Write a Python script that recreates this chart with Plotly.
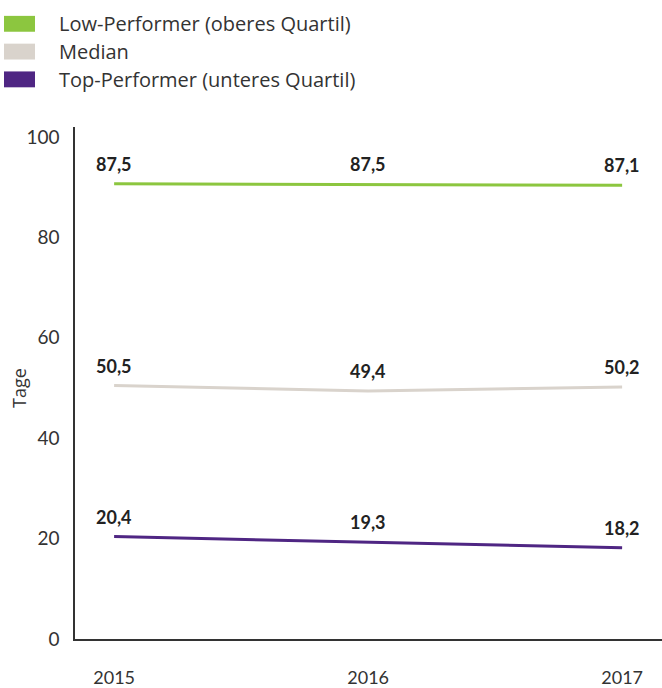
import plotly.graph_objects as go

years = [2015, 2016, 2017]
series_names = ["Low-Performer (oberes Quartil)", "Median", "Top-Performer (unteres Quartil)"]
series_colors = ["#8cc63f", "#d9d3cc", "#4f2683"]
# line positions as drawn in the picture
low_values = [90.7, 90.6, 90.4]
median_values = [50.5, 49.4, 50.2]
top_values = [20.4, 19.3, 18.2]
# printed value labels
low_labels = ["87,5", "87,5", "87,1"]
median_labels = ["50,5", "49,4", "50,2"]
top_labels = ["20,4", "19,3", "18,2"]
y_ticks = [0, 20, 40, 60, 80, 100]

W, H = 662, 688
ML, MR, MT, MB = 75, 0, 127, 45
pw, ph = W - ML - MR, H - MT - MB

def px_x(p):
    return (p - ML) / pw

def px_y(p):
    return (H - MB - p) / ph

fig = go.Figure()
all_vals = [low_values, median_values, top_values]
all_labels = [low_labels, median_labels, top_labels]
for name, col, vals, labs in zip(series_names, series_colors, all_vals, all_labels):
    fig.add_trace(go.Scatter(x=years, y=vals, mode="lines", name=name,
                             line=dict(color=col, width=3), showlegend=False,
                             hoverinfo="skip"))
    for xv, yv, t in zip(years, vals, labs):
        fig.add_annotation(x=xv, y=yv, text=t, showarrow=False, yshift=20,
                           font=dict(family="Lato", size=18, color="#222222", weight=700),
                           xanchor="center", yanchor="middle")

# legend drawn manually (rectangle swatches)
leg_rows = [23, 51, 79]
for name, col, ry in zip(series_names, series_colors, leg_rows):
    fig.add_shape(type="rect", xref="paper", yref="paper",
                  x0=px_x(4), x1=px_x(35), y0=px_y(ry - 8), y1=px_y(ry + 8),
                  fillcolor=col, line=dict(width=0), layer="above")
    fig.add_annotation(xref="paper", yref="paper", x=px_x(57), y=px_y(ry),
                       text=name, showarrow=False, xanchor="left", yanchor="middle",
                       font=dict(family="Open Sans", size=20, color="#333333"))

fig.add_annotation(xref="paper", yref="paper", x=px_x(19), y=px_y(390),
                   text="Tage", textangle=-90, showarrow=False,
                   xanchor="center", yanchor="middle",
                   font=dict(family="Open Sans", size=18, color="#333333"))

fig.update_layout(
    width=W, height=H,
    margin=dict(l=ML, r=MR, t=MT, b=MB, pad=0),
    paper_bgcolor="white", plot_bgcolor="white",
    showlegend=False,
    xaxis=dict(range=[2014.846, 2017.157], tickvals=years, ticktext=[str(y) for y in years],
               showgrid=False, zeroline=False, showline=True, linecolor="#333333", linewidth=1.5,
               ticks="", ticklabelstandoff=22,
               tickfont=dict(family="Lato", size=18, color="#333333"), fixedrange=True),
    yaxis=dict(range=[0, 102], tickvals=y_ticks, showgrid=False, zeroline=False,
               showline=True, linecolor="#333333", linewidth=1.5, ticks="",
               ticklabelstandoff=10,
               tickfont=dict(family="Lato", size=19, color="#333333"), fixedrange=True),
)

fig.write_html("out.html")
